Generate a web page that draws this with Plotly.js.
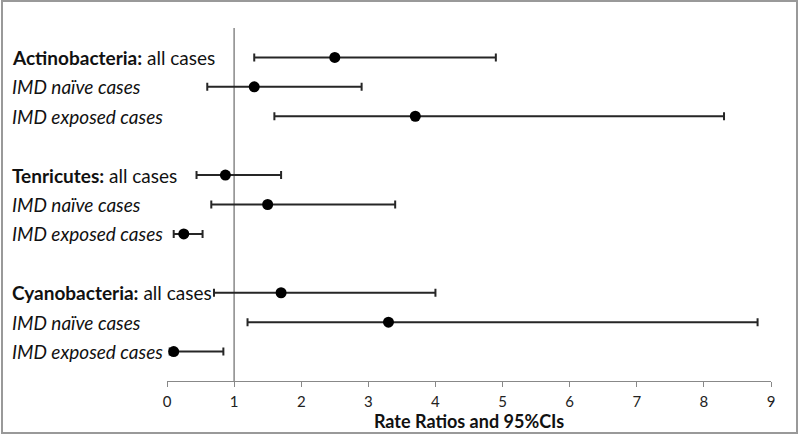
<!DOCTYPE html>
<html>
<head>
<meta charset="utf-8">
<script src="https://cdn.plot.ly/plotly-3.0.1.min.js"></script>
<style>
  html, body { margin: 0; padding: 0; background: #fff; }
  #chart { width: 800px; height: 436px; }
</style>
</head>
<body>
<div id="chart"></div>
<script>
// ---- data ----
const groups = ["Actinobacteria", "Tenricutes", "Cyanobacteria"];
const subgroups = ["all cases", "IMD naïve cases", "IMD exposed cases"];
const rateRatio = [2.5, 1.3, 3.7, 0.87, 1.5, 0.25, 1.7, 3.3, 0.1];
const ciLower   = [1.3, 0.6, 1.6, 0.44, 0.66, 0.1, 0.7, 1.2, 0.04];
const ciUpper   = [4.9, 2.9, 8.3, 1.7, 3.4, 0.53, 4.0, 8.8, 0.84];
const nullValue = 1;
const xTicks = [0, 1, 2, 3, 4, 5, 6, 7, 8, 9];

// ---- layout positions built from structure ----
const ys = [], labels = [];
groups.forEach((g, gi) => {
  subgroups.forEach((s, si) => {
    ys.push(12 - (gi * 4 + si + 1));
    if (si === 0) labels.push("<b>" + g + ":</b> " + s);
    else labels.push("<i>" + s + "</i>");
  });
});

const trace = {
  type: "scatter",
  mode: "markers",
  x: rateRatio,
  y: ys,
  marker: { color: "#000", size: 11 },
  error_x: {
    type: "data",
    symmetric: false,
    array: ciUpper.map((u, i) => u - rateRatio[i]),
    arrayminus: ciLower.map((l, i) => rateRatio[i] - l),
    color: "#262626",
    thickness: 2,
    width: 4
  },
  hoverinfo: "x+y",
  showlegend: false
};

const font = "Lato, 'Open Sans', sans-serif";
const annotations = labels.map((t, i) => ({
  xref: "paper", yref: "y",
  x: (10 - 167) / 604, y: ys[i],
  xanchor: "left", yanchor: "middle",
  text: t, showarrow: false,
  font: { family: font, size: 19, color: "#111" }
}));

const layout = {
  width: 800, height: 436,
  margin: { l: 167, r: 29, t: 28, b: 55 },
  paper_bgcolor: "#fff",
  plot_bgcolor: "#fff",
  font: { family: font, color: "#222" },
  xaxis: {
    range: [0, 9],
    tickvals: xTicks,
    ticks: "outside", ticklen: 5, tickcolor: "#888", tickwidth: 1,
    ticklabelstandoff: 2,
    showline: true, linecolor: "#888", linewidth: 1,
    showgrid: false, zeroline: false,
    tickfont: { family: font, size: 15, color: "#222" },
    title: { text: "<b>Rate Ratios and 95%CIs</b>", font: { family: font, size: 18, color: "#111" }, standoff: 2 }
  },
  yaxis: {
    range: [0, 12],
    showticklabels: false, showgrid: false, zeroline: false, showline: false, ticks: ""
  },
  shapes: [
    { type: "line", xref: "x", yref: "paper", x0: nullValue, x1: nullValue, y0: 0, y1: 1,
      line: { color: "#888", width: 1.5 }, layer: "below" },
    { type: "rect", xref: "paper", yref: "paper",
      x0: (2 - 167) / 604, x1: (797 - 167) / 604,
      y0: -(433 - 381) / 353, y1: (381 - 1) / 353,
      line: { color: "#999", width: 2 } }
  ],
  annotations: annotations
};

Plotly.newPlot("chart", [trace], layout, { displayModeBar: false, staticPlot: true });
</script>
</body>
</html>
